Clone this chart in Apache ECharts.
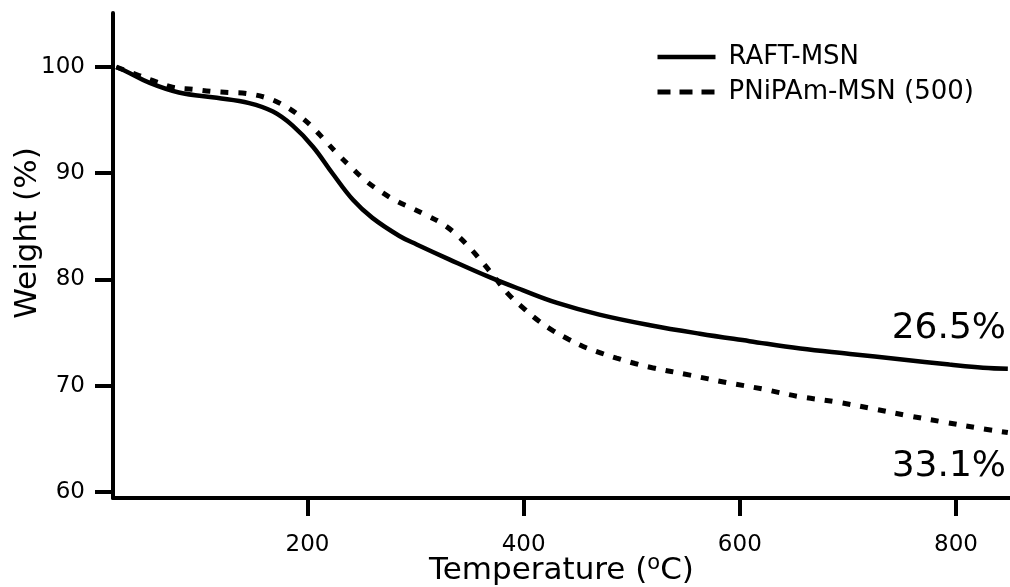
<!DOCTYPE html>
<html>
<head>
<meta charset="utf-8">
<script src="https://cdn.jsdelivr.net/npm/echarts@6/dist/echarts.min.js"></script>
<style>html,body{margin:0;padding:0;background:#fff}#c{width:1010px;height:587px}</style>
</head>
<body>
<div id="c"></div>
<script>
var raftT = [23, 30, 54, 81, 116, 146, 168, 186, 205, 223, 242, 260, 285, 301, 331, 369, 399, 431, 470, 517, 563, 609, 656, 702, 748, 794, 825, 848];
var raftW = [100.0, 99.7, 98.5, 97.6, 97.1, 96.6, 95.8, 94.5, 92.5, 90.0, 87.5, 85.8, 84.1, 83.3, 81.9, 80.2, 79.0, 77.8, 76.7, 75.7, 74.9, 74.2, 73.5, 73.0, 72.5, 72.0, 71.7, 71.6];
var pnT = [23, 44, 60, 75, 94, 112, 128, 144, 162, 176, 190, 204, 216, 228, 241, 255, 269, 282, 297, 311, 324, 337, 350, 362, 374, 386, 401, 414, 427, 441, 455, 471, 486, 503, 519, 554, 588, 621, 654, 688, 720, 755, 788, 822, 848];
var pnW = [100.0, 99.2, 98.6, 98.1, 97.9, 97.7, 97.6, 97.5, 97.1, 96.5, 95.6, 94.4, 93.1, 91.8, 90.5, 89.2, 88.2, 87.4, 86.7, 86.0, 85.3, 84.3, 83.0, 81.6, 80.1, 78.6, 77.2, 76.1, 75.2, 74.4, 73.7, 73.1, 72.6, 72.1, 71.7, 71.0, 70.3, 69.7, 69.0, 68.5, 67.9, 67.2, 66.6, 66.0, 65.6];
var xTicks = [200, 400, 600, 800];
var yTicks = [60, 70, 80, 90, 100];
var seriesNames = ['RAFT-MSN', 'PNiPAm-MSN (500)'];
var notes = ['26.5%', '33.1%'];

function pairs(a, b) { return a.map(function (v, i) { return [v, b[i]]; }); }
var FONT = 'DejaVu Sans';
var solidStyle = { color: '#000', width: 4.5, type: 'solid' };
var dashStyle = { color: '#000', width: 5, type: [8, 10] };
var chart = echarts.init(document.getElementById('c'));
chart.setOption({
  animation: false,
  backgroundColor: '#fff',
  grid: { left: 113, right: 0, top: 13, bottom: 89, containLabel: false, outerBoundsMode: 'none' },
  xAxis: {
    type: 'value', min: 20, max: 850,
    name: 'Temperature ({sup|o}C)',
    nameLocation: 'middle', nameGap: 55, nameMoveOverlap: false,
    nameTextStyle: {
      fontFamily: FONT, fontSize: 31, color: '#000',
      rich: { sup: { fontFamily: FONT, fontSize: 21, color: '#000', padding: [0, 0, 14, 0] } }
    },
    axisLine: { lineStyle: { color: '#000', width: 4 } },
    axisTick: { show: true, inside: false, length: 18, customValues: xTicks, lineStyle: { color: '#000', width: 4 } },
    axisLabel: { customValues: xTicks, margin: 36, fontFamily: FONT, fontSize: 23, color: '#000' },
    splitLine: { show: false }
  },
  yAxis: {
    type: 'value', min: 59.44, max: 105.08,
    name: 'Weight (%)',
    nameLocation: 'middle', nameGap: 70, nameRotate: 90, nameMoveOverlap: false,
    nameTextStyle: { fontFamily: FONT, fontSize: 31, color: '#000', padding: [0, 0, 0, 45] },
    axisLine: { show: true, lineStyle: { color: '#000', width: 4 } },
    axisTick: { show: true, inside: false, length: 18, customValues: yTicks, lineStyle: { color: '#000', width: 4 } },
    axisLabel: { customValues: yTicks, margin: 28, fontFamily: FONT, fontSize: 23, color: '#000' },
    splitLine: { show: false }
  },
  legend: {
    orient: 'vertical', left: 655, top: 44, padding: 0,
    itemWidth: 58, itemHeight: 14, itemGap: 9,
    itemStyle: { opacity: 0 },
    textStyle: { fontFamily: FONT, fontSize: 26, color: '#000', lineHeight: 26, padding: [0, 0, 0, 8] },
    data: [
      { name: seriesNames[0], lineStyle: solidStyle },
      { name: seriesNames[1], lineStyle: { color: '#000', width: 5, type: [13, 9] } }
    ]
  },
  series: [
    {
      name: seriesNames[0], type: 'line', data: pairs(raftT, raftW),
      symbol: 'none', smooth: 0.4,
      lineStyle: solidStyle,
      itemStyle: { color: '#000' }
    },
    {
      name: seriesNames[1], type: 'line', data: pairs(pnT, pnW),
      symbol: 'none', smooth: 0.4,
      lineStyle: dashStyle,
      itemStyle: { color: '#000' }
    }
  ],
  graphic: [
    { type: 'text', right: 4, top: 311, style: { text: notes[0], fontFamily: FONT, fontSize: 36, fill: '#000' } },
    { type: 'text', right: 4, top: 449, style: { text: notes[1], fontFamily: FONT, fontSize: 36, fill: '#000' } }
  ]
});
</script>
</body>
</html>
